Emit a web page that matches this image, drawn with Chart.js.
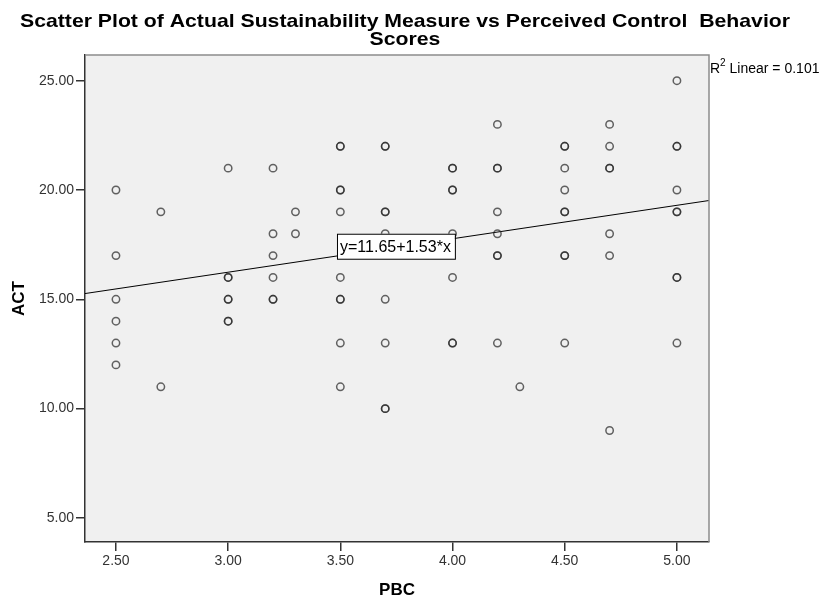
<!DOCTYPE html>
<html>
<head>
<meta charset="utf-8">
<script src="https://cdn.jsdelivr.net/npm/chart.js@4.4.1/dist/chart.umd.min.js"></script>
<style>
  html, body { margin: 0; padding: 0; background: #ffffff; }
  #wrap { width: 822px; height: 596px; }
</style>
</head>
<body>
<div id="wrap"><canvas id="c" width="822" height="596"></canvas></div>
<script>
// ---- data ----
const pbc = [
  2.5,2.5,2.5,2.5,2.5,2.5,
  2.7,2.7,
  3.0,3.0,3.0,3.0,3.0,3.0,3.0,
  3.2,3.2,3.2,3.2,3.2,3.2,
  3.3,3.3,
  3.5,3.5,3.5,3.5,3.5,3.5,3.5,3.5,3.5,3.5,
  3.7,3.7,3.7,3.7,3.7,3.7,3.7,3.7,3.7,
  4.0,4.0,4.0,4.0,4.0,4.0,4.0,4.0,
  4.2,4.2,4.2,4.2,4.2,4.2,4.2,4.2,
  4.3,
  4.5,4.5,4.5,4.5,4.5,4.5,4.5,4.5,4.5,
  4.7,4.7,4.7,4.7,4.7,4.7,4.7,
  5.0,5.0,5.0,5.0,5.0,5.0,5.0,5.0,5.0
];
const act = [
  20,17,15,14,13,12,
  19,11,
  21,16,16,15,15,14,14,
  21,18,17,16,15,15,
  19,18,
  22,22,20,20,19,16,15,15,13,11,
  22,22,19,19,18,15,13,10,10,
  21,21,20,20,18,16,13,13,
  23,21,21,19,18,17,17,13,
  11,
  22,22,21,20,19,19,17,17,13,
  23,22,21,21,18,17,9,
  25,22,22,20,19,19,16,16,13
];
const xTicks = [2.5, 3.0, 3.5, 4.0, 4.5, 5.0];
const yTicks = [5, 10, 15, 20, 25];
const fitIntercept = 11.65;
const fitSlope = 1.53;
const r2Linear = 0.101;
const titleLines = ['Scatter Plot of Actual Sustainability Measure vs Perceived Control  Behavior', 'Scores'];
const xTitle = 'PBC';
const yTitle = 'ACT';

// ---- axis bounds ----
const xMin = 2.362, xMax = 5.143;
const yMin = 3.90, yMax = 26.175;

const points = pbc.map((x, i) => ({ x: x, y: act[i] }));
const fitLine = [
  { x: xMin, y: fitIntercept + fitSlope * xMin },
  { x: xMax, y: fitIntercept + fitSlope * xMax }
];

const FONT = '"Liberation Sans", Arial, Helvetica, sans-serif';

const decor = {
  id: 'decor',
  beforeDraw(chart) {
    const { ctx, chartArea: a } = chart;
    ctx.save();
    ctx.fillStyle = '#f0f0f0';
    ctx.fillRect(a.left, a.top, a.right - a.left, a.bottom - a.top);
    ctx.restore();
  },
  afterDraw(chart) {
    const { ctx, chartArea: a, scales } = chart;
    ctx.save();
    // top & right frame
    ctx.strokeStyle = '#8c8c8c';
    ctx.lineWidth = 1.5;
    ctx.beginPath();
    ctx.moveTo(a.left, a.top);
    ctx.lineTo(a.right, a.top);
    ctx.lineTo(a.right, a.bottom);
    ctx.stroke();

    // title
    ctx.fillStyle = '#000';
    ctx.textAlign = 'center';
    ctx.textBaseline = 'alphabetic';
    ctx.font = 'bold 19px ' + FONT;
    const w0 = ctx.measureText(titleLines[0]).width;
    const sx = 770 / w0;
    ctx.save();
    ctx.translate(405, 0);
    ctx.scale(sx, 1);
    ctx.fillText(titleLines[0], 0, 27);
    ctx.fillText(titleLines[1], 0, 45);
    ctx.restore();

    // axis titles
    ctx.font = 'bold 17px ' + FONT;
    ctx.fillText(xTitle, (a.left + a.right) / 2, 595);
    ctx.save();
    ctx.translate(24, (a.top + a.bottom) / 2);
    ctx.rotate(-Math.PI / 2);
    ctx.fillText(yTitle, 0, 0);
    ctx.restore();

    // R² label
    ctx.textAlign = 'left';
    ctx.font = '14px ' + FONT;
    let x0 = a.right + 1;
    ctx.fillText('R', x0, 73);
    x0 += ctx.measureText('R').width;
    ctx.font = '10px ' + FONT;
    ctx.fillText('2', x0, 66);
    x0 += ctx.measureText('2').width;
    ctx.font = '14px ' + FONT;
    ctx.fillText(' Linear = ' + r2Linear.toFixed(3), x0, 73);

    // equation box
    const eq = 'y=' + fitIntercept.toFixed(2) + '+' + fitSlope.toFixed(2) + '*x';
    ctx.font = '16px ' + FONT;
    const bx = scales.x.getPixelForValue(3.485);
    const by = scales.y.getPixelForValue(18.0);
    const bw = ctx.measureText(eq).width + 7;
    const bh = 25;
    ctx.fillStyle = '#ffffff';
    ctx.fillRect(bx, by, bw, bh);
    ctx.strokeStyle = '#000';
    ctx.lineWidth = 1;
    ctx.strokeRect(bx + 0.5, by + 0.5, bw, bh);
    ctx.fillStyle = '#000';
    ctx.textBaseline = 'middle';
    ctx.fillText(eq, bx + 3, by + bh / 2 + 1);
    ctx.restore();
  }
};

const tickFont = { family: FONT, size: 14 };

new Chart(document.getElementById('c'), {
  type: 'scatter',
  data: {
    datasets: [
      {
        data: points,
        pointStyle: 'circle',
        pointRadius: 3.7,
        pointBorderWidth: 1.5,
        pointBorderColor: 'rgba(40,40,40,0.72)',
        pointBackgroundColor: 'rgba(0,0,0,0)',
        showLine: false
      },
      {
        type: 'line',
        data: fitLine,
        borderColor: '#000',
        borderWidth: 1,
        pointRadius: 0,
        fill: false
      }
    ]
  },
  options: {
    responsive: false,
    animation: false,
    devicePixelRatio: 1,
    layout: { padding: { top: 55, right: 113, left: 0, bottom: 0 } },
    plugins: { legend: { display: false }, tooltip: { enabled: false }, title: { display: false } },
    scales: {
      x: {
        type: 'linear',
        min: xMin, max: xMax,
        afterBuildTicks: s => { s.ticks = xTicks.map(v => ({ value: v })); },
        afterFit: s => { s.height = 54; },
        ticks: { callback: v => Number(v).toFixed(2), font: tickFont, color: '#333', padding: 2, maxRotation: 0, autoSkip: false },
        grid: { drawOnChartArea: false, drawTicks: true, tickLength: 9, color: '#333', lineWidth: 1.5 },
        border: { display: true, color: '#333', width: 1.5 }
      },
      y: {
        type: 'linear',
        min: yMin, max: yMax,
        afterBuildTicks: s => { s.ticks = yTicks.map(v => ({ value: v })); },
        afterFit: s => { s.width = 85; },
        ticks: { callback: v => Number(v).toFixed(2), font: tickFont, color: '#333', padding: 2, autoSkip: false },
        grid: { drawOnChartArea: false, drawTicks: true, tickLength: 9, color: '#333', lineWidth: 1.5 },
        border: { display: true, color: '#333', width: 1.5 }
      }
    }
  },
  plugins: [decor]
});
</script>
</body>
</html>
